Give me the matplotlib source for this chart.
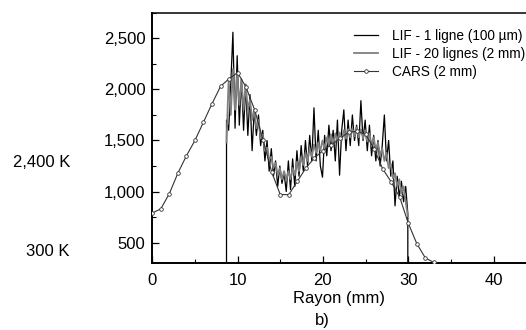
import numpy as np
import matplotlib
matplotlib.use("Agg")
import matplotlib.pyplot as plt
from matplotlib.ticker import MultipleLocator, FuncFormatter

plt.rcParams['font.family'] = ['Liberation Sans', 'DejaVu Sans']

# ---- data ----
cars_r = list(range(0, 34))
cars_t = [790, 830, 980, 1180, 1350, 1500, 1680, 1860, 2030, 2105, 2165, 2020,
          1800, 1500, 1190, 970, 970, 1100, 1230, 1330, 1400, 1460, 1520, 1580,
          1590, 1560, 1420, 1222, 1095, 945, 690, 490, 350, 305]

lif_grid = np.arange(8.7, 29.96, 0.25)   # radial sampling of LIF profiles (mm)
lif1_t = [1700, 1600, 2050, 2560, 1620, 2330, 1650, 2100, 1600, 2050, 1550, 1950,
          1400, 1800, 1550, 1750, 1450, 1600, 1300, 1500, 1200, 1420, 1150, 1300,
          1050, 1250, 1080, 1180, 1000, 1300, 1020, 1320, 1050, 1400, 1150, 1450,
          1200, 1500, 1250, 1550, 1300, 1820, 1300, 1600, 1250, 1140, 1550, 1350,
          1650, 1400, 1600, 1300, 1700, 1160, 1600, 1800, 1400, 1700, 1450, 1750,
          1500, 1650, 1450, 1890, 1500, 1700, 1400, 1650, 1350, 1550, 1300, 1500,
          1250, 1450, 1750, 1300, 1500, 1150, 1300, 860, 1150, 950, 1100, 900,
          1050, 780]
lif20_t = [1480, 2100, 1750, 2200, 1800, 2150, 1850, 2100, 1800, 2050, 1800, 1900,
           1700, 1800, 1620, 1700, 1520, 1560, 1400, 1430, 1320, 1340, 1230, 1280,
           1160, 1230, 1120, 1200, 1110, 1200, 1120, 1230, 1160, 1290, 1200, 1340,
           1260, 1380, 1300, 1420, 1340, 1460, 1380, 1480, 1400, 1500, 1420, 1530,
           1450, 1560, 1470, 1570, 1490, 1580, 1500, 1600, 1520, 1610, 1530, 1620,
           1540, 1630, 1530, 1610, 1520, 1600, 1490, 1570, 1450, 1530, 1400, 1480,
           1350, 1420, 1300, 1380, 1230, 1270, 1130, 1180, 1050, 1120, 980, 1050,
           900, 760]
baseline_t = 300

labels = ["LIF - 1 ligne (100 µm)", "LIF - 20 lignes (2 mm)", "CARS (2 mm)"]
yticks = [500, 1000, 1500, 2000, 2500]
xticks = [0, 10, 20, 30, 40]

# ---- figure ----
fig = plt.figure(figsize=(5.26, 3.30), dpi=100)
ax = fig.add_axes([0.2895, 0.203, 0.7105, 0.758])

r1 = np.concatenate([[lif_grid[0]], lif_grid, [lif_grid[-1]]])
t1 = np.concatenate([[baseline_t], lif1_t, [baseline_t]])
ax.plot(r1, t1, color='black', lw=0.9, label=labels[0], zorder=3)
ax.plot(lif_grid, lif20_t, color='#7f7f7f', lw=1.3, label=labels[1], zorder=4)
ax.plot(cars_r, cars_t, color='#333333', lw=0.8, marker='o', ms=2.6,
        mfc='white', mec='#333333', mew=0.6, label=labels[2], zorder=5)

ax.set_xlim(0, 43.8)
ax.set_ylim(300, 2750)
ax.set_xticks(xticks)
ax.set_yticks(yticks)
ax.xaxis.set_minor_locator(MultipleLocator(5))
ax.yaxis.set_minor_locator(MultipleLocator(250))
ax.yaxis.set_major_formatter(FuncFormatter(lambda v, p: f"{int(v):,}"))
ax.tick_params(which='major', direction='in', length=5, width=0.9, labelsize=12)
ax.tick_params(which='minor', direction='in', length=3, width=0.8)
ax.tick_params(axis='x', pad=7)
ax.tick_params(axis='y', pad=5)
ax.spines['right'].set_visible(False)
for s in ['left', 'bottom']:
    ax.spines[s].set_linewidth(1.4)
ax.spines['top'].set_linewidth(1.1)

ax.set_xlabel("Rayon (mm)", fontsize=12, labelpad=2)

leg = ax.legend(loc='upper right', bbox_to_anchor=(525 / 526, 1 - 29 / 330),
                bbox_transform=fig.transFigure, frameon=False, fontsize=9.8,
                handlelength=1.8, handletextpad=1.0, labelspacing=0.3,
                borderpad=0, borderaxespad=0)

fig.text(70 / 526, 1 - 162 / 330, "2,400 K", ha='right', va='center', fontsize=12)
fig.text(70 / 526, 1 - 251 / 330, "300 K", ha='right', va='center', fontsize=12)
fig.text(322 / 526, 1 - 320 / 330, "b)", ha='center', va='center', fontsize=12)

fig.savefig("out.png", dpi=100)
